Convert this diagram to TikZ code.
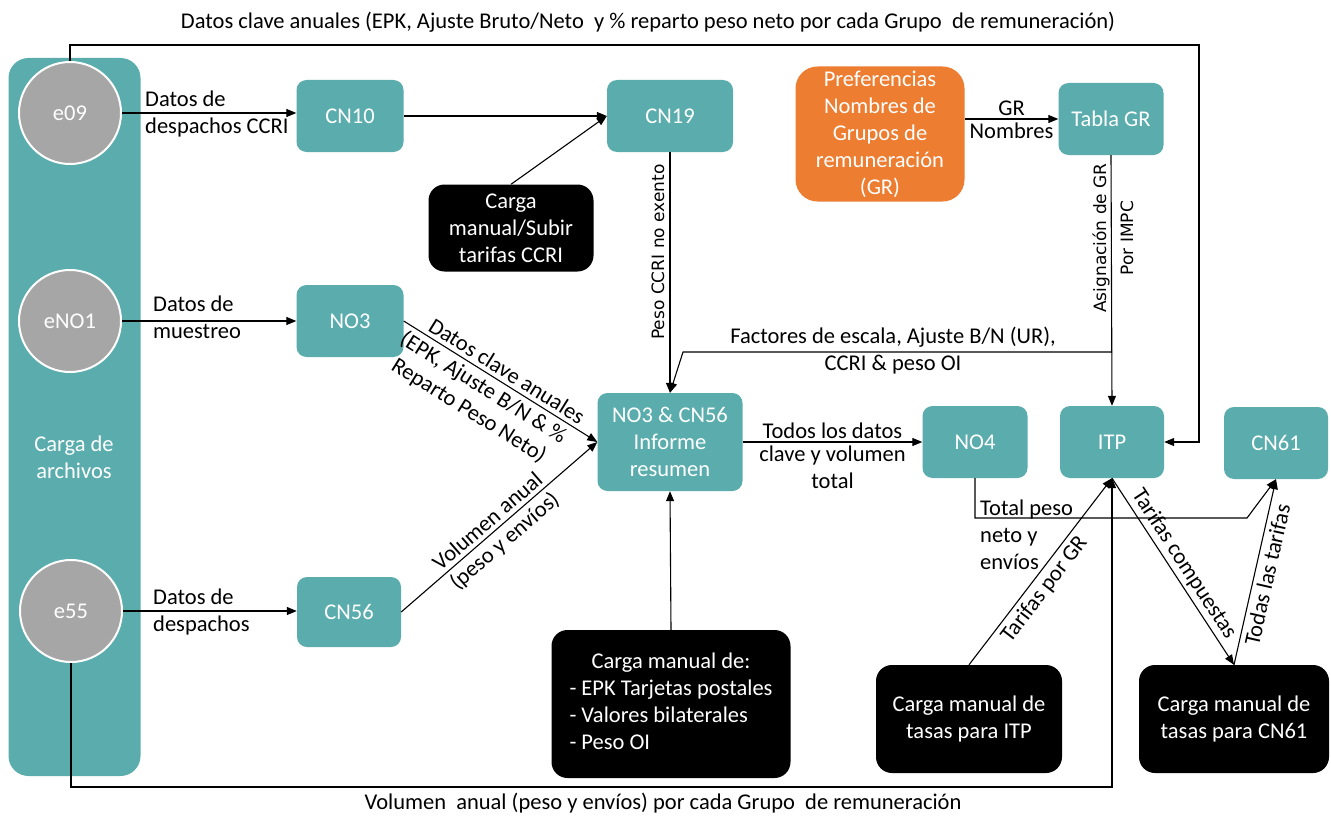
\documentclass[tikz,border=0pt]{standalone}
\usepackage{fontspec}
\setmainfont{Carlito}
\newfontfamily\dvfont{DejaVu Sans}
\usetikzlibrary{arrows.meta}
\definecolor{tealc}{RGB}{91,173,173}
\definecolor{grayc}{RGB}{166,166,166}
\definecolor{orangec}{RGB}{237,125,49}
\newcommand\lblf{\fontsize{22.5}{27}\selectfont}
\newcommand\dvf{\dvfont\fontsize{17}{27}\selectfont}
\begin{document}
\begin{tikzpicture}[x=1pt,y=-1pt,
  sz/.style 2 args={minimum width=#1pt, minimum height=#2pt},
  tbox/.style={fill=tealc, rounded corners=10pt, text=white, font=\lblf, align=center, inner sep=0pt},
  bbox/.style={fill=black, rounded corners=16pt, text=white, font=\lblf, align=center, inner sep=0pt},
  obox/.style={fill=orangec, rounded corners=22pt, text=white, font=\lblf, align=center, inner sep=0pt},
  ecirc/.style={circle, fill=grayc, draw=white, line width=2pt, minimum size=102pt, inner sep=0pt, text=white, font=\lblf},
  lbl/.style={font=\lblf, text=black, inner sep=2pt},
  slbl/.style={font=\lblf, text=black, inner sep=4pt, sloped},
  rlbl/.style={font=\dvf, text=black, inner sep=2pt},
  conn/.style={line width=1.1pt, draw=black},
  arr/.style={conn, -{Triangle[length=10pt,width=8pt]}}]
\useasboundingbox (0,0) rectangle (1331,816);
\fill[white] (0,0) rectangle (1331,816);

% left panel
\node[fill=tealc, rounded corners=20pt, sz={132}{718}] (left) at (74.5,417) {};
\node[font=\lblf, text=white, align=center] (cargatxt) at (74,457) {Carga de\\archivos};
\node[ecirc] (e09) at (70,113) {e09};
\node[ecirc] (eno1) at (70,321) {eNO1};
\node[ecirc] (e55) at (71,611) {e55};

% boxes
\node[tbox, sz={107}{72}] (cn10) at (350,116) {CN10};
\node[tbox, sz={126}{72}] (cn19) at (670,116) {CN19};
\node[bbox, sz={165}{87}] (ccri) at (511,228) {Carga\\manual/Subir\\tarifas CCRI};
\node[obox, sz={169}{135}] (pref) at (880,134) {Preferencias\\Nombres de\\Grupos de\\remuneración\\(GR)};
\node[tbox, sz={105}{72}] (tablagr) at (1111,119) {Tabla GR};
\node[tbox, sz={107}{72}] (no3) at (350,321) {NO3};
\node[tbox, sz={145}{98}] (summ) at (670,442) {NO3 \& CN56\\Informe\\resumen};
\node[tbox, sz={105}{72}] (no4) at (975,442) {NO4};
\node[tbox, sz={104}{72}] (itp) at (1112,442) {ITP};
\node[tbox, sz={104}{72}] (cn61) at (1276,443) {CN61};
\node[tbox, sz={104}{70}] (cn56) at (349,612) {CN56};
\node[bbox, sz={239}{148}] (mbox) at (671,704) {\begin{tabular}{@{}l@{}}\multicolumn{1}{@{}c@{}}{Carga manual de:}\\- EPK Tarjetas postales\\- Valores bilaterales\\- Peso OI\end{tabular}};
\node[bbox, sz={186}{108}] (itpbox) at (969,719) {Carga manual de\\tasas para ITP};
\node[bbox, sz={190}{108}] (cnbox) at (1234,719) {Carga manual de\\tasas para CN61};

% coordinates
\coordinate (topL) at (70,45);
\coordinate (topR) at (1199,45);
\coordinate (fj) at (1112,352);
\coordinate (fk) at (683,352);
\coordinate (cjog) at (1247,518);
\coordinate (botR) at (1112,787);

% top connector
\draw[arr] (e09.north) -- (topL) -- (topR) |- (itp.east);
\node[lbl] (toplbl) at (648,22) {Datos clave anuales (EPK, Ajuste Bruto/Neto\ \ y \% reparto peso neto por cada Grupo\ \ de remuneración)};

% e09 -> cn10
\draw[arr] (e09.east) -- (e09.east -| cn10.west);
\node[lbl, anchor=west, align=left] (l1) at (143,114) {Datos de\\despachos CCRI};
\draw[arr] (cn10) -- (cn19);
\draw[arr] (ccri.north) -- (cn19.west);

% cn19 -> summary
\draw[arr] (cn19.south) -- node[rlbl, pos=0.415, rotate=90, anchor=south, inner sep=5pt] {Peso CCRI no exento} (summ.north);

% pref -> tabla
\draw[arr] (pref.east |- tablagr.west) -- node[lbl, above, inner sep=3pt] {GR} node[lbl, below, inner sep=3pt] {Nombres} (tablagr.west);

% tabla -> itp
\draw[arr] (tablagr.south) -- (itp.north);
\node[rlbl, rotate=90, align=center] (asig) at (1113,238) {Asignación de GR\\Por IMPC};

% factores
\draw[arr] (fj) -- (fk) -- (summ.north);
\node[lbl, align=center] (fact) at (893,351) {Factores de escala, Ajuste B/N (UR),\\CCRI \& peso OI};

% eno1 -> no3
\draw[arr] (eno1.east) -- (no3.west);
\node[lbl, anchor=west, align=left] (l2) at (151,317) {Datos de\\muestreo};

% no3 -> summ
\draw[arr] (no3.east) -- node[slbl, above, pos=0.5] {Datos clave anuales} node[slbl, below, pos=0.45, align=center] {(EPK, Ajuste B/N \& \%\\Reparto Peso Neto)} (summ.west);

% e55 -> cn56
\draw[arr] (e55.east) -- (e55.east -| cn56.west);
\node[lbl, anchor=west, align=left] (l3) at (151,612) {Datos de\\despachos};

% cn56 -> summ
\draw[arr] (cn56.east) -- node[slbl, above, pos=0.48] {Volumen anual} node[slbl, below, pos=0.48] {(peso y envíos)} (summ.west);

% summ -> no4
\draw[arr] (summ.east) -- node[lbl, above, inner sep=3pt] {Todos los datos} node[lbl, below, align=center, inner sep=3pt] {clave y volumen\\total} (no4.west);

% mbox -> summ
\draw[arr] (mbox.north) -- (summ.south);

% no4 -> cn61
\draw[arr] (no4.south) |- (cjog) -- (cn61.south);
\node[lbl, anchor=west, align=left] (l4) at (978,535) {Total peso\\neto y\\envíos};

% itpbox -> itp
\draw[arr] (itpbox.north) -- node[slbl, below, pos=0.45] {Tarifas por GR} (itp.south);

% bottom connector
\draw[arr] (e55.south) |- (botR) -- (itp.south);
\node[lbl] (botlbl) at (663,803) {Volumen\ \ anual (peso y envíos) por cada Grupo\ \ de remuneración};

% itp -> cnbox
\draw[arr] (itp.south) -- node[slbl, above, pos=0.5, inner sep=3pt] {Tarifas compuestas} (cnbox.north);

% cnbox -> cn61
\draw[arr] (cnbox.north) -- node[slbl, below, pos=0.5] {Todas las tarifas} (cn61.south);
\end{tikzpicture}
\end{document}
